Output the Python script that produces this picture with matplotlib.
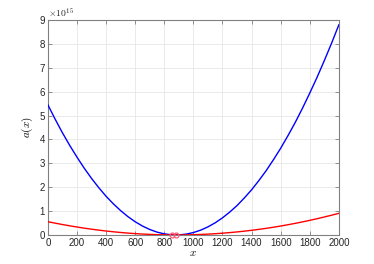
import matplotlib
matplotlib.use("Agg")
import matplotlib.pyplot as plt
from matplotlib.ticker import ScalarFormatter

x = [0, 50, 100, 150, 200, 250, 300, 350, 400, 450, 500, 550, 600, 650, 700, 750, 800,
     850, 880, 900, 950, 1000, 1050, 1100, 1150, 1200, 1250, 1300, 1350, 1400, 1450,
     1500, 1550, 1600, 1650, 1700, 1750, 1800, 1850, 1900, 1950, 2000]
blue = [5.45, 4.849, 4.28, 3.752, 3.26, 2.795, 2.37, 1.979, 1.62, 1.304, 1.02, 0.769,
        0.554, 0.374, 0.230, 0.120, 0.046, 0.0067, 0.0, 0.003, 0.034, 0.100, 0.201,
        0.338, 0.509, 0.716, 0.958, 1.23, 1.547, 1.89, 2.276, 2.69, 3.146, 3.63, 4.156,
        4.71, 5.307, 5.94, 6.599, 7.30, 8.031, 8.80]
red = [0.555, 0.495, 0.437, 0.383, 0.333, 0.285, 0.242, 0.202, 0.165, 0.133, 0.104,
       0.078, 0.057, 0.038, 0.024, 0.012, 0.005, 0.0007, 0.0, 0.0003, 0.0035, 0.010,
       0.021, 0.035, 0.052, 0.074, 0.099, 0.127, 0.159, 0.194, 0.234, 0.277, 0.324,
       0.374, 0.428, 0.486, 0.547, 0.612, 0.680, 0.752, 0.827, 0.905]
marker_x = [852, 878]
marker_y = [0.0, 0.0]
scale = 1e15

plt.rcParams['font.family'] = ['Liberation Sans', 'DejaVu Sans']
plt.rcParams['mathtext.fontset'] = 'cm'

fig = plt.figure(figsize=(3.74, 2.64), dpi=100)
ax = fig.add_axes([0.128, 0.110, 0.778, 0.814])

ax.plot(x, [v * scale for v in blue], color='#0000ff', lw=1.0, zorder=3)
ax.plot(x, [v * scale for v in red], color='#ff0000', lw=1.0, zorder=3)
ax.plot(marker_x, [v * scale for v in marker_y], 'o', ms=3.5, mfc='none',
        mec='#ff5a7a', mew=0.9, zorder=4, clip_on=False)

ax.set_xlim(0, 2000)
ax.set_ylim(0, 9e15)
ax.set_xticks(range(0, 2001, 200))
ax.set_yticks([i * 1e15 for i in range(10)])
fmt = ScalarFormatter(useMathText=True)
ax.yaxis.set_major_formatter(fmt)
ax.yaxis.get_offset_text().set_visible(False)
ax.set_yticklabels([str(i) for i in range(10)])
ax.text(0.0, 1.005, r'$\times10^{15}$', transform=ax.transAxes, fontsize=7,
        color='#262626', ha='left', va='bottom', family='DejaVu Sans')

ax.grid(True, color='#e6e6e6', lw=0.6)
ax.set_axisbelow(True)
for s in ax.spines.values():
    s.set_color('#808080')
    s.set_linewidth(0.8)
ax.tick_params(direction='in', length=3, width=0.6, colors='#808080',
               labelcolor='#262626', labelsize=7, top=True, right=True, pad=2)
ax.set_xlabel(r'$x$', fontsize=8, labelpad=0)
ax.set_ylabel(r'$a(x)$', fontsize=8, labelpad=3)

fig.savefig('out.png', dpi=100)
